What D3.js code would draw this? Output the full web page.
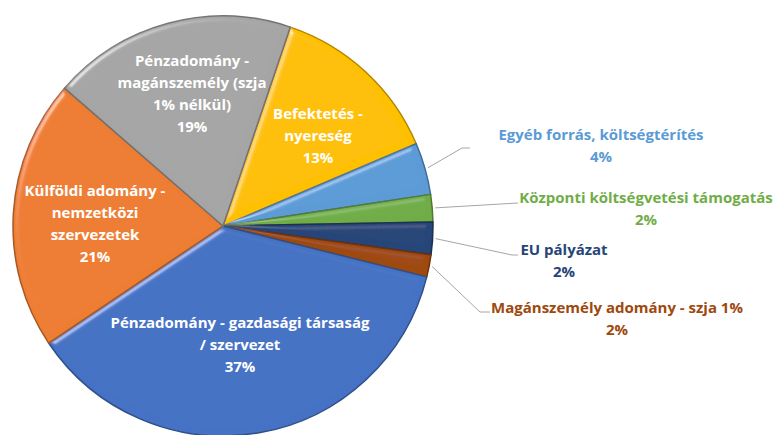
<!DOCTYPE html>
<html>
<head>
<meta charset="utf-8">
<script src="https://cdn.jsdelivr.net/npm/d3@7"></script>
<style>
  html, body { margin: 0; padding: 0; background: #fff; }
  svg { display: block; }
</style>
</head>
<body>
<svg id="chart" width="776" height="435"></svg>
<script>
// ---- data (clockwise from the first slice) ----
const categories = [
  "Befektetés - nyereség",
  "Egyéb forrás, költségtérítés",
  "Központi költségvetési támogatás",
  "EU pályázat",
  "Magánszemély adomány - szja 1%",
  "Pénzadomány - gazdasági társaság / szervezet",
  "Külföldi adomány - nemzetközi szervezetek",
  "Pénzadomány - magánszemély (szja 1% nélkül)"
];
const values = [13.4, 4.0, 2.1, 2.5, 1.7, 36.7, 20.8, 18.8];
const percentLabels = ["13%", "4%", "2%", "2%", "2%", "37%", "21%", "19%"];
const colors = ["#FFC000", "#5B9BD5", "#70AD47", "#264478", "#9E480E", "#4472C4", "#ED7D31", "#A5A5A5"];
// label text lines per slice
const labelLines = [
  ["Befektetés -", "nyereség"],
  ["Egyéb forrás, költségtérítés"],
  ["Központi költségvetési támogatás"],
  ["EU pályázat"],
  ["Magánszemély adomány - szja 1%"],
  ["Pénzadomány - gazdasági társaság", "/ szervezet"],
  ["Külföldi adomány -", "nemzetközi", "szervezetek"],
  ["Pénzadomány -", "magánszemély (szja", "1% nélkül)"]
];

// ---- layout ----
const cx = 223, cy = 226, R = 210;
const startDeg = 18.7;
const lineH = 22;
const insidePos = {0: [318, 119], 5: [240, 328], 6: [95, 196], 7: [192, 66]};
const outsidePos = {
  1: {text: [601, 140], path: [[462, 148], [470, 148]]},
  2: {text: [646, 203], path: [[518, 203]]},
  3: {text: [564, 255], path: [[512, 255], [518, 255]]},
  4: {text: [617, 313], path: [[480, 312], [490, 312]]}
};
const outsideColors = {1: "#5B9BD5", 2: "#70AD47", 3: "#264478", 4: "#9E480E"};

const svg = d3.select("#chart");
const defs = svg.append("defs");

// bevel filter
const f = defs.append("filter").attr("id", "bevel").attr("x", "-10%").attr("y", "-10%").attr("width", "120%").attr("height", "120%");
f.append("feGaussianBlur").attr("in", "SourceAlpha").attr("stdDeviation", 3).attr("result", "blur");
const sp = f.append("feSpecularLighting").attr("in", "blur").attr("surfaceScale", 4).attr("specularConstant", 0.8)
  .attr("specularExponent", 40).attr("lighting-color", "#ffffff").attr("result", "spec");
sp.append("feDistantLight").attr("azimuth", 225).attr("elevation", 35);
f.append("feComposite").attr("in", "spec").attr("in2", "SourceAlpha").attr("operator", "in").attr("result", "specIn");
f.append("feComposite").attr("in", "SourceGraphic").attr("in2", "specIn").attr("operator", "arithmetic")
  .attr("k1", 0).attr("k2", 1).attr("k3", 0.5).attr("k4", 0);

const pie = d3.pie().sort(null).value(d => d)
  .startAngle(startDeg * Math.PI / 180)
  .endAngle(startDeg * Math.PI / 180 + 2 * Math.PI);
const arcs = pie(values);
const arc = d3.arc().innerRadius(0).outerRadius(R);

const g = svg.append("g").attr("transform", `translate(${cx},${cy})`);
g.selectAll("path.slice").data(arcs).enter().append("path")
  .attr("class", "slice")
  .attr("d", arc)
  .attr("fill", (d, i) => colors[i])
  .attr("stroke", (d, i) => d3.color(colors[i]).darker(1))
  .attr("stroke-width", 1.5)
  .attr("stroke-linejoin", "round")
  .attr("filter", "url(#bevel)");

// leader lines
Object.keys(outsidePos).forEach(k => {
  const i = +k;
  const a = arcs[i];
  const mid = (a.startAngle + a.endAngle) / 2;
  const sx = cx + (R + 3) * Math.sin(mid);
  const sy = cy - (R + 3) * Math.cos(mid);
  const pts = [[sx, sy]].concat(outsidePos[i].path);
  svg.append("path")
    .attr("d", d3.line()(pts))
    .attr("fill", "none")
    .attr("stroke", "#A6A6A6")
    .attr("stroke-width", 1);
});

const font = "'Open Sans', Lato, sans-serif";
const fsize = 15;

function drawLabel(i, x, y, fill) {
  const lines = labelLines[i].concat([percentLabels[i]]);
  const t = svg.append("text")
    .attr("text-anchor", "middle")
    .attr("font-family", font)
    .attr("font-weight", "bold")
    .attr("font-size", fsize)
    .attr("fill", fill);
  lines.forEach((ln, j) => {
    t.append("tspan").attr("x", x).attr("y", y + j * lineH).text(ln);
  });
}

Object.keys(insidePos).forEach(k => drawLabel(+k, insidePos[k][0], insidePos[k][1], "#ffffff"));
Object.keys(outsidePos).forEach(k => drawLabel(+k, outsidePos[k].text[0], outsidePos[k].text[1], outsideColors[k]));
</script>
</body>
</html>
